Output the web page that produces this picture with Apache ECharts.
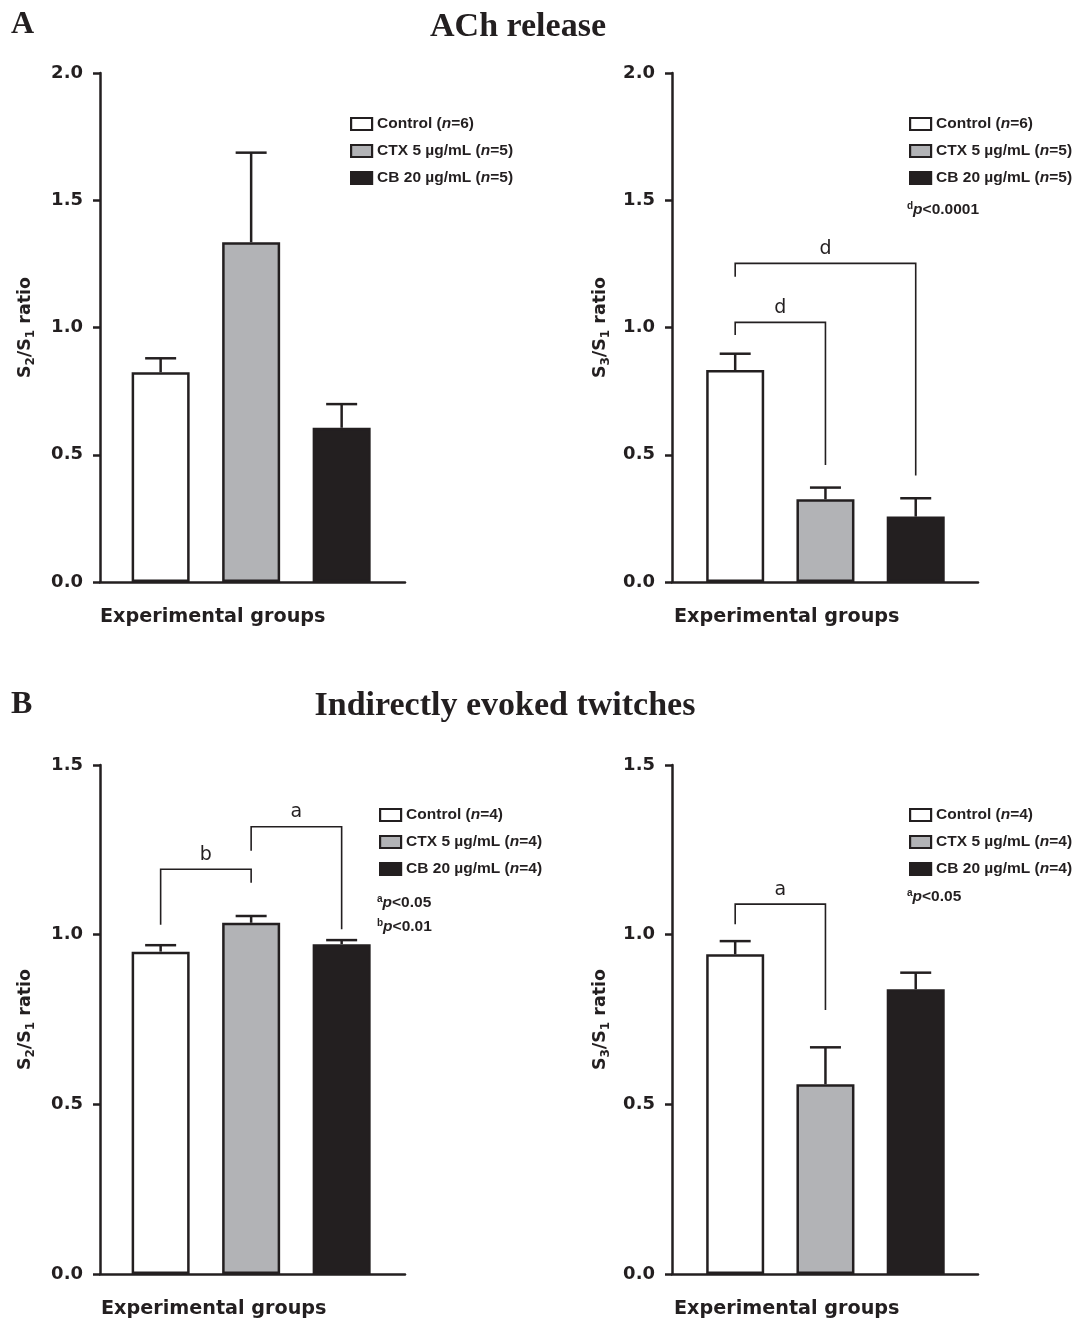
<!DOCTYPE html>
<html>
<head>
<meta charset="utf-8">
<script src="https://cdn.jsdelivr.net/npm/echarts@6/dist/echarts.min.js"></script>
<style>
html,body{margin:0;padding:0;background:#fff;}
#chart{width:1081px;height:1322px;}
</style>
</head>
<body>
<div id="chart"></div>
<script>
// ---------------- DATA ----------------
const groupNames = ['Control', 'CTX 5 µg/mL', 'CB 20 µg/mL'];
const nAch = [6, 5, 5];
const nTwitch = [4, 4, 4];
const yTicksAch = [0, 0.5, 1.0, 1.5, 2.0];
const yTicksTwitch = [0, 0.5, 1.0, 1.5];

// ACh release
const achS2S1 = [0.824, 1.335, 0.606];
const achS2S1Err = [0.055, 0.352, 0.093];
const achS3S1 = [0.833, 0.325, 0.257];
const achS3S1Err = [0.064, 0.046, 0.072];
// Indirectly evoked twitches
const twS2S1 = [0.950, 1.035, 0.972];
const twS2S1Err = [0.019, 0.020, 0.012];
const twS3S1 = [0.942, 0.559, 0.839];
const twS3S1Err = [0.039, 0.109, 0.049];

// significance brackets: [fromGroup, toGroup, topY, leftLegEndY, rightLegEndY, letter]
const achS3Brackets = [[0, 2, 1.252, 1.199, 0.418, 'd'], [0, 1, 1.020, 0.971, 0.460, 'd']];
const twS2Brackets = [[0, 1, 1.193, 1.029, 1.153, 'b'], [1, 2, 1.318, 1.247, 1.016, 'a']];
const twS3Brackets = [[0, 1, 1.090, 1.031, 0.778, 'a']];

// ---------------- STYLE ----------------
const INK = '#231f20';
const FILLS = ['#ffffff', '#b2b3b6', '#231f20'];
const WIDE = '"DejaVu Sans", Verdana, sans-serif';
const SANS = '"Liberation Sans", Arial, Helvetica, sans-serif';
const SERIF = '"Liberation Serif", "Times New Roman", serif';

const panels = [
  {grid: {left: 100, top: 73, width: 305, height: 509}, xMin: 0.33, xMax: 3.70, yMax: 2.0, nameGap: 63,
   vals: achS2S1, errs: achS2S1Err, n: nAch, sub: '2', brackets: [], legend: {left: 350, top: 116}},
  {grid: {left: 672, top: 73, width: 306, height: 509}, xMin: 0.30, xMax: 3.69, yMax: 2.0, nameGap: 60,
   vals: achS3S1, errs: achS3S1Err, n: nAch, sub: '3', brackets: achS3Brackets, legend: {left: 909, top: 116}},
  {grid: {left: 100, top: 765, width: 305, height: 509}, xMin: 0.33, xMax: 3.70, yMax: 1.5, nameGap: 63,
   vals: twS2S1, errs: twS2S1Err, n: nTwitch, sub: '2', brackets: twS2Brackets, legend: {left: 379, top: 807}},
  {grid: {left: 672, top: 765, width: 306, height: 509}, xMin: 0.30, xMax: 3.69, yMax: 1.5, nameGap: 60,
   vals: twS3S1, errs: twS3S1Err, n: nTwitch, sub: '3', brackets: twS3Brackets, legend: {left: 909, top: 807}}
];

const grids = [], xAxes = [], yAxes = [], series = [], legends = [];

panels.forEach((p, i) => {
  grids.push(Object.assign({}, p.grid));
  xAxes.push({
    type: 'value', gridIndex: i, min: p.xMin, max: p.xMax,
    axisLine: {show: true, onZero: false, lineStyle: {color: INK, width: 2.5}},
    axisTick: {show: false}, axisLabel: {show: false}, splitLine: {show: false}
  });
  yAxes.push({
    type: 'value', gridIndex: i, min: 0, max: p.yMax, interval: 0.5,
    axisLine: {show: true, lineStyle: {color: INK, width: 2.5}},
    axisTick: {show: true, length: 7, lineStyle: {color: INK, width: 2.5}},
    axisLabel: {show: true, margin: 17, color: INK, fontSize: 18, fontWeight: 'bold', fontFamily: WIDE,
                formatter: v => v.toFixed(1)},
    splitLine: {show: false},
    name: 'S{sub|' + p.sub + '}/S{sub|1} ratio',
    nameLocation: 'middle', nameGap: p.nameGap,
    nameTextStyle: {color: INK, fontSize: 17.5, fontWeight: 'bold', fontFamily: WIDE, lineHeight: 20,
      rich: {sub: {fontSize: 12, fontWeight: 'bold', fontFamily: WIDE, color: INK, lineHeight: 24, verticalAlign: 'bottom'}}}
  });
  const names = groupNames.map((g, k) => g + ' (n=' + p.n[k] + ')');
  names.forEach((nm, k) => {
    series.push({
      type: 'bar', name: nm, xAxisIndex: i, yAxisIndex: i,
      data: [[k + 1, p.vals[k]]], barWidth: 58, barGap: '-100%',
      itemStyle: {color: FILLS[k], borderColor: INK, borderWidth: 2.5},
      emphasis: {disabled: true}, z: 2
    });
  });
  // error bars
  series.push({
    type: 'custom', name: 'err' + i, xAxisIndex: i, yAxisIndex: i, z: 3,
    data: p.vals.map((v, k) => [k + 1, v, p.errs[k]]),
    renderItem: (params, api) => {
      const x = api.value(0), v = api.value(1), e = api.value(2);
      const p0 = api.coord([x, v]), p1 = api.coord([x, v + e]);
      const st = {stroke: INK, lineWidth: 2.5};
      return {type: 'group', children: [
        {type: 'line', shape: {x1: p0[0], y1: p0[1], x2: p1[0], y2: p1[1]}, style: st},
        {type: 'line', shape: {x1: p1[0] - 15.5, y1: p1[1], x2: p1[0] + 15.5, y2: p1[1]}, style: st}
      ]};
    }
  });
  // significance brackets
  if (p.brackets.length) {
    const br = p.brackets;
    series.push({
      type: 'custom', name: 'br' + i, xAxisIndex: i, yAxisIndex: i, z: 4,
      data: br.map(b => [b[0] + 1, b[1] + 1, b[2], b[3], b[4]]),
      renderItem: (params, api) => {
        const x1 = api.value(0), x2 = api.value(1), top = api.value(2), yl = api.value(3), yr = api.value(4);
        const a = api.coord([x1, yl]), b = api.coord([x1, top]), c = api.coord([x2, top]), d = api.coord([x2, yr]);
        return {type: 'group', children: [
          {type: 'polyline', shape: {points: [a, b, c, d]}, style: {stroke: INK, lineWidth: 1.6, fill: 'none'}},
          {type: 'text', x: (b[0] + c[0]) / 2, y: b[1] - 5,
           style: {text: br[params.dataIndex][5], fill: INK, fontSize: 19, fontFamily: WIDE,
                   align: 'center', verticalAlign: 'bottom'}}
        ]};
      }
    });
  }
  legends.push({
    data: names, orient: 'vertical', left: p.legend.left, top: p.legend.top,
    padding: 0, itemGap: 11, itemWidth: 21, itemHeight: 12, icon: 'rect',
    selectedMode: false,
    itemStyle: {borderColor: INK, borderWidth: 2.2},
    textStyle: {color: INK, fontSize: 15.5, fontWeight: 'bold', fontFamily: SANS, lineHeight: 16,
      rich: {i: {fontStyle: 'italic', fontWeight: 'bold', fontSize: 15.5, fontFamily: SANS, color: INK, lineHeight: 16}}},
    formatter: nm => nm.replace('(n=', '({i|n}=')
  });
});

function txt(x, y, text, opt) {
  return {type: 'text', x: x, y: y, silent: true,
    style: Object.assign({text: text, fill: INK, fontFamily: WIDE, fontWeight: 'bold', fontSize: 19.2,
      align: 'left', verticalAlign: 'middle'}, opt || {})};
}
const noteRich = {
  s: {fontSize: 10, fontWeight: 'bold', fontFamily: SANS, fill: INK, verticalAlign: 'top', lineHeight: 18},
  p: {fontSize: 15.5, fontWeight: 'bold', fontStyle: 'italic', fontFamily: SANS, fill: INK, lineHeight: 18},
  t: {fontSize: 15.5, fontWeight: 'bold', fontFamily: SANS, fill: INK, lineHeight: 18}
};
function note(x, y, letter, rest) {
  return txt(x, y, '{s|' + letter + '}{p|p}{t|' + rest + '}', {rich: noteRich});
}

const graphics = [
  txt(11, 25, 'A', {fontFamily: SERIF, fontSize: 32}),
  txt(518, 27, 'ACh release', {fontFamily: SERIF, fontSize: 34, align: 'center'}),
  txt(11, 705, 'B', {fontFamily: SERIF, fontSize: 32}),
  txt(505, 706, 'Indirectly evoked twitches', {fontFamily: SERIF, fontSize: 34, align: 'center'}),
  txt(100, 617, 'Experimental groups'),
  txt(674, 617, 'Experimental groups'),
  txt(101, 1309, 'Experimental groups'),
  txt(674, 1309, 'Experimental groups'),
  note(907, 210, 'd', '<0.0001'),
  note(377, 903, 'a', '<0.05'),
  note(377, 927, 'b', '<0.01'),
  note(907, 897, 'a', '<0.05')
];

const chart = echarts.init(document.getElementById('chart'), null, {renderer: 'canvas'});
chart.setOption({
  animation: false,
  backgroundColor: '#ffffff',
  grid: grids, xAxis: xAxes, yAxis: yAxes, series: series, legend: legends,
  graphic: graphics
});
</script>
</body>
</html>
